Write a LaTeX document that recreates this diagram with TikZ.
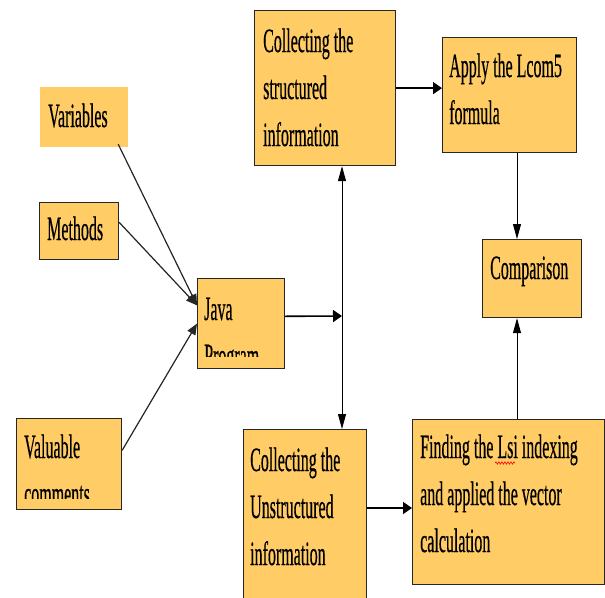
\documentclass[tikz,border=0pt]{standalone}
\usepackage{fontspec}
\setmainfont{Liberation Serif}[FakeBold=0.7]
\usetikzlibrary{arrows.meta,calc,decorations.pathmorphing}
\definecolor{boxfill}{HTML}{FFCC66}
\newcommand\btext[1]{\scalebox{0.47}[1]{\fontsize{34}{47}\selectfont\begin{tabular}[t]{@{}l@{}}#1\end{tabular}}}
\begin{document}
\begin{tikzpicture}[x=1pt,y=-1pt,
  box/.style={draw=black!85, line width=1.2pt, fill=boxfill, anchor=north west, inner sep=0pt},
  txt/.style={anchor=base west, inner sep=0pt, text=black},
  arr/.style={-{Triangle[length=9pt,width=12pt]}, line width=1.6pt},
  thinarr/.style={-{Triangle[length=15pt,width=8pt]}, line width=0.9pt},
  diag/.style={-{Triangle[length=11pt,width=9pt]}, line width=1.2pt, draw=black!85, fill=black}]
\useasboundingbox (0,0) rectangle (605,597);
\clip (0,0) rectangle (605,597);
% boxes
\node[box, draw=none, minimum width=88pt, minimum height=60pt] (var) at (39,86) {};
\node[box, minimum width=79pt, minimum height=57pt] (meth) at (39,202) {};
\node[box, minimum width=87pt, minimum height=90pt] (java) at (197,278) {};
\node[box, minimum width=105pt, minimum height=91pt] (val) at (16,418) {};
\node[box, minimum width=141pt, minimum height=155pt] (struct) at (254,10) {};
\node[box, minimum width=134pt, minimum height=115pt] (apply) at (442,37) {};
\node[box, minimum width=99pt, minimum height=78pt] (comp) at (482,239) {};
\node[box, minimum width=123pt, minimum height=175pt] (unstr) at (243,429) {};
\node[box, minimum width=192pt, minimum height=165pt] (find) at (412,419) {};
% texts
\node[txt] (tvar) at (48,127) {\btext{Variables}};
\node[txt] (tmeth) at (47,240) {\btext{Methods}};
\begin{scope}
\clip (197,278) rectangle (284,356);
\node[txt] (tjava) at (204,320) {\btext{Java\\Program}};
\end{scope}
\begin{scope}
\clip (16,418) rectangle (121,498);
\node[txt] (tval) at (24,458) {\btext{Valuable\\comments}};
\end{scope}
\node[txt] (tstruct) at (263,52) {\btext{Collecting the\\structured\\information}};
\node[txt] (tapply) at (449,77) {\btext{Apply the Lcom5\\formula}};
\node[txt] (tcomp) at (490,279) {\btext{Comparison}};
\node[txt] (tunstr) at (250,471) {\btext{Collecting the\\Unstructured\\information}};
\node[txt] (tfind) at (420,458) {\btext{Finding the Lsi indexing\\and applied the vector\\calculation}};
\coordinate (sq1) at (495,463);
\coordinate (sq2) at (515,463);
\draw[red, line width=0.6pt, decorate, decoration={snake, amplitude=1.2pt, segment length=3pt}] (sq1) -- (sq2);
% connectors
\coordinate (jin) at ($(java.north west)!0.3!(java.south west)$);
\draw[diag] ($(var.south east)+(-10,-3)$) -- (jin);
\draw[diag] ($(meth.north east)!0.35!(meth.south east)$) -- (jin);
\draw[diag] ($(val.north east)!0.35!(val.south east)$) -- (java.west);
\coordinate (J) at (342,316);
\draw[arr] ($(java.north east)!0.42!(java.south east)$) -- (J);
\draw[thinarr] (J) -- (J |- struct.south);
\draw[thinarr] (J) -- (J |- unstr.north);
\draw[arr] (struct.east) -- (struct.east -| apply.west);
\coordinate (X) at (517,0);
\draw[thinarr] (X |- apply.south) -- (X |- comp.north);
\draw[thinarr] (X |- find.north) -- (X |- comp.south);
\coordinate (uo) at ($(unstr.north east)+(0,79)$);
\draw[arr] (uo) -- (uo -| find.west);
\end{tikzpicture}
\end{document}
